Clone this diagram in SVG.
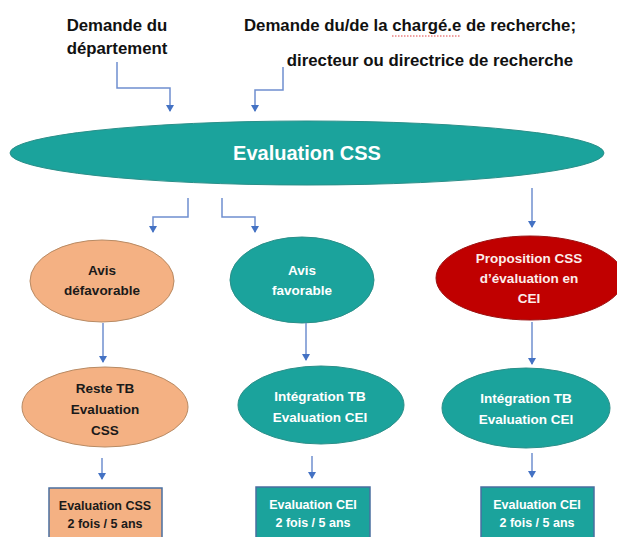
<svg xmlns="http://www.w3.org/2000/svg" width="617" height="537" viewBox="0 0 617 537">
<defs>
<marker id="arr" markerUnits="userSpaceOnUse" markerWidth="8" markerHeight="8" refX="6" refY="4" orient="auto" viewBox="0 0 8 8">
<path d="M0,0 L7,4 L0,8 Z" fill="#4472C4"/>
</marker>
<style>
text{font-family:"Liberation Sans",Arial,sans-serif;font-weight:bold;text-anchor:middle}
.top{font-size:16.8px;fill:#111}
.lbl{font-size:13.5px}
.dk{fill:#1a1a1a}
.wt{fill:#ffffff}
.teal{fill:#1BA39C;stroke:#2A8F89;stroke-width:1}
.orng{fill:#F4B183;stroke:#B88A63;stroke-width:1}
.red{fill:#C00000;stroke:#9B1111;stroke-width:1}
.box{stroke:#4A6FA0;stroke-width:1.5}
.con{fill:none;stroke:#6F8FCF;stroke-width:1.5}
</style>
</defs>
<rect width="617" height="537" fill="#ffffff"/>

<g id="src-departement">
<text class="top" x="117" y="31">Demande du</text>
<text class="top" x="117" y="54">département</text>
</g>
<g id="src-chercheur">
<text class="top" x="410" y="31">Demande du/de la chargé.e de recherche;</text>
<line x1="392" y1="36" x2="460" y2="36" stroke="#E04040" stroke-width="1" stroke-dasharray="1.5,1.5"/>
<text class="top" x="430" y="66">directeur ou directrice de recherche</text>
</g>

<g id="evaluation-css">
<ellipse cx="307" cy="153" rx="297" ry="32" class="teal"/>
<text x="307" y="160" class="wt" style="font-size:20px">Evaluation CSS</text>
</g>

<g id="avis-defavorable">
<ellipse cx="102" cy="281" rx="72" ry="41" class="orng"/>
<text class="lbl dk" x="102" y="275">Avis</text>
<text class="lbl dk" x="102" y="295">défavorable</text>
</g>
<g id="avis-favorable">
<ellipse cx="302" cy="280" rx="72" ry="43" class="teal"/>
<text class="lbl wt" x="302" y="275">Avis</text>
<text class="lbl wt" x="302" y="295">favorable</text>
</g>
<g id="proposition-cei">
<ellipse cx="530" cy="278" rx="94" ry="42" class="red"/>
<text class="lbl" fill="#FCEDEA" x="529" y="263">Proposition CSS</text>
<text class="lbl" fill="#FCEDEA" x="529" y="283">d’évaluation en</text>
<text class="lbl" fill="#FCEDEA" x="529" y="303">CEI</text>
</g>

<g id="reste-tb">
<ellipse cx="105" cy="407" rx="83" ry="40" class="orng"/>
<text class="lbl dk" x="105" y="393">Reste TB</text>
<text class="lbl dk" x="105" y="414">Evaluation</text>
<text class="lbl dk" x="105" y="435">CSS</text>
</g>
<g id="integration-tb-1">
<ellipse cx="321" cy="405" rx="83" ry="39" class="teal"/>
<text class="lbl wt" x="320" y="401">Intégration TB</text>
<text class="lbl wt" x="320" y="422">Evaluation CEI</text>
</g>
<g id="integration-tb-2">
<ellipse cx="526" cy="408" rx="84" ry="40" class="teal"/>
<text class="lbl wt" x="526" y="403">Intégration TB</text>
<text class="lbl wt" x="526" y="424">Evaluation CEI</text>
</g>

<g id="box-css">
<rect x="49" y="488" width="113" height="60" class="box" fill="#F4B183"/>
<text class="lbl dk" x="105" y="510" style="font-size:12.5px">Evaluation CSS</text>
<text class="lbl dk" x="105" y="528" style="font-size:12.5px">2 fois / 5 ans</text>
</g>
<g id="box-cei-1">
<rect x="256" y="487" width="114" height="60" class="box" fill="#1BA39C"/>
<text class="lbl wt" x="313" y="509" style="font-size:12.5px">Evaluation CEI</text>
<text class="lbl wt" x="313" y="527" style="font-size:12.5px">2 fois / 5 ans</text>
</g>
<g id="box-cei-2">
<rect x="481" y="487" width="113" height="60" class="box" fill="#1BA39C"/>
<text class="lbl wt" x="537" y="509" style="font-size:12.5px">Evaluation CEI</text>
<text class="lbl wt" x="537" y="527" style="font-size:12.5px">2 fois / 5 ans</text>
</g>

<g id="connectors">
<path class="con" d="M117,62 V88 H170 V111" marker-end="url(#arr)"/>
<path class="con" d="M283,67 V90 H255 V111" marker-end="url(#arr)"/>
<path class="con" d="M188,198 V217 H153 V232" marker-end="url(#arr)"/>
<path class="con" d="M222,198 V217 H255 V232" marker-end="url(#arr)"/>
<path class="con" d="M532,188 V227" marker-end="url(#arr)"/>
<path class="con" d="M103,323 V362" marker-end="url(#arr)"/>
<path class="con" d="M306,323 V360" marker-end="url(#arr)"/>
<path class="con" d="M532,322 V364" marker-end="url(#arr)"/>
<path class="con" d="M102,458 V479" marker-end="url(#arr)"/>
<path class="con" d="M312,456 V478" marker-end="url(#arr)"/>
<path class="con" d="M532,453 V477" marker-end="url(#arr)"/>
</g>
</svg>
